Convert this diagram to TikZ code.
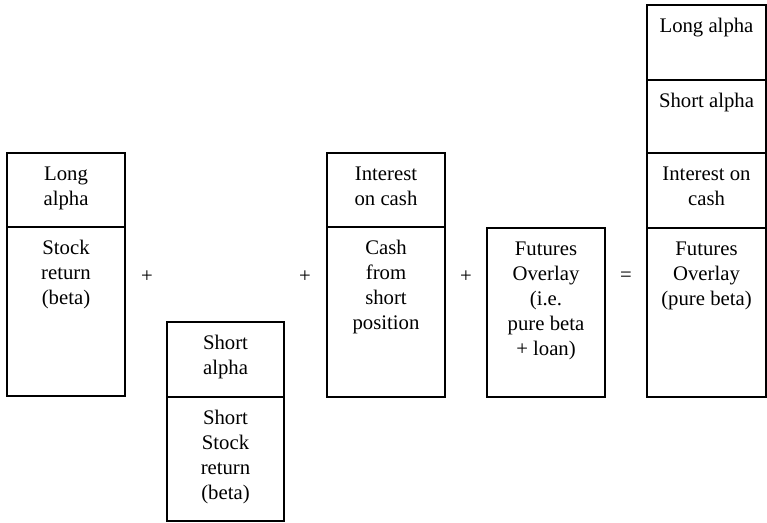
\documentclass[tikz,border=0pt]{standalone}
\usepackage{fontspec}
\setmainfont{Liberation Serif}
\usepackage{tikz}
\usetikzlibrary{positioning}

\begin{document}
\begin{tikzpicture}[x=0.02cm,y=-0.02cm,
    box/.style={draw,line width=0.6pt},
    cell/.style={anchor=north,align=center,inner sep=0pt,
                 font=\fontsize{11.8}{14.2}\selectfont},
    op/.style={inner sep=0pt,font=\fontsize{11.8}{14.2}\selectfont}
  ]
    \useasboundingbox (0,0) rectangle (767,523);

    \draw[box] (7,153) rectangle (125,396);
    \draw[box] (7,227) -- (125,227);
    \node[cell] (la1) at (66,163) {\strut Long\\alpha};
    \node[cell] (sr1) at (66,237) {\strut Stock\\return\\(beta)};

    \draw[box] (167,322) rectangle (284,521);
    \draw[box] (167,397) -- (284,397);
    \node[cell] (sa2) at (225.5,332) {\strut Short\\alpha};
    \node[cell] (ss2) at (225.5,407) {\strut Short\\Stock\\return\\(beta)};

    \draw[box] (327,153) rectangle (445,397);
    \draw[box] (327,227) -- (445,227);
    \node[cell] (ic3) at (386,163) {\strut Interest\\on cash};
    \node[cell] (cs3) at (386,237) {\strut Cash\\from\\short\\position};

    \draw[box] (487,228) rectangle (605,397);
    \node[cell] (fo4) at (546,238) {\strut Futures\\Overlay\\(i.e.\\pure beta\\+ loan)};

    \draw[box] (647,5) rectangle (766,397);
    \draw[box] (647,80) -- (766,80);
    \draw[box] (647,153) -- (766,153);
    \draw[box] (647,228) -- (766,228);
    \node[cell] (la5) at (706.5,15) {\strut Long alpha};
    \node[cell] (sa5) at (706.5,90) {\strut Short alpha};
    \node[cell] (ic5) at (706.5,163) {\strut Interest on\\cash};
    \node[cell] (fo5) at (706.5,238) {\strut Futures\\Overlay\\(pure beta)};

    \node[op] (p1) at (147,277) {+};
    \node[op] (p2) at (305,277) {+};
    \node[op] (p3) at (466,277) {+};
    \node[op] (eq) at (626,277) {=};
  \end{tikzpicture}
\end{document}
